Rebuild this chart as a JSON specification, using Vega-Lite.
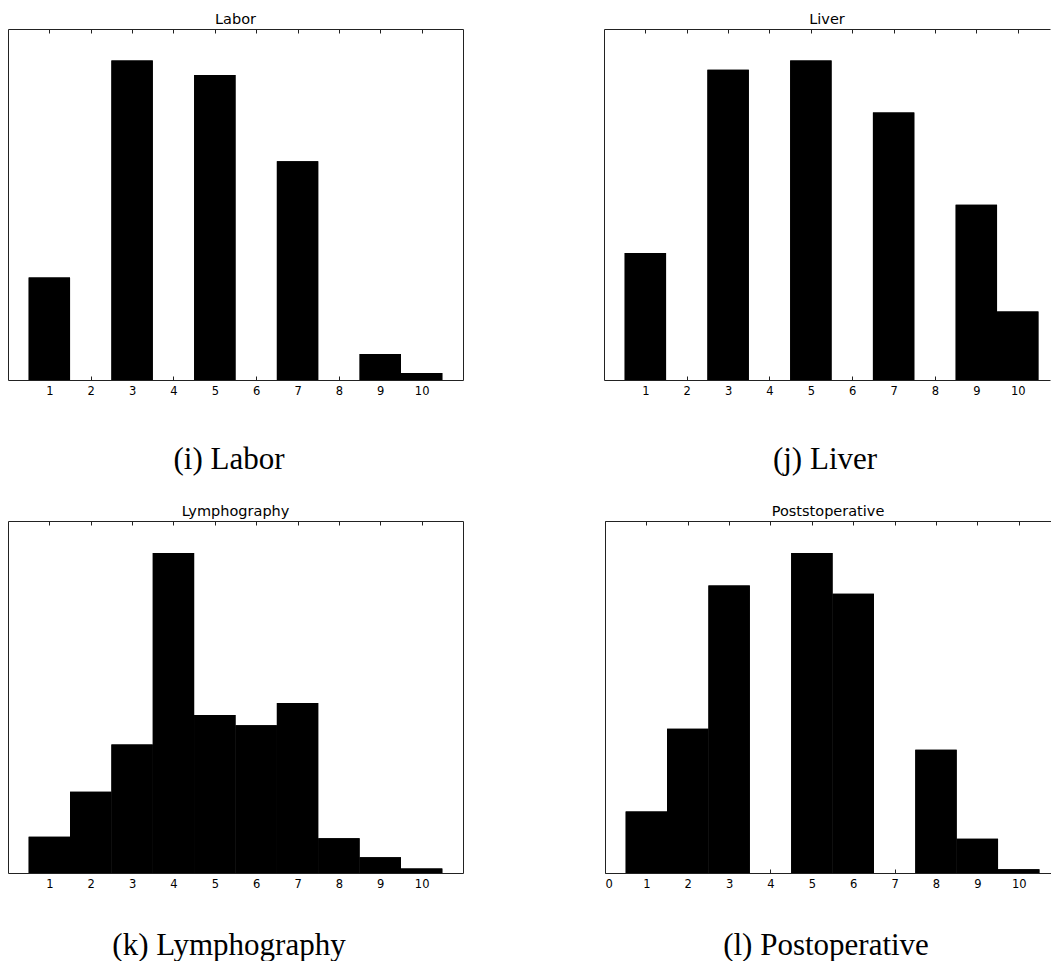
{
  "$schema": "https://vega.github.io/schema/vega-lite/v6.json",
  "padding": {"left": 8, "top": 12, "right": 0, "bottom": 0},
  "background": "white",
  "datasets": {
    "labor": [
      {"lo": 0.5, "hi": 1.5, "share": 29.2},
      {"lo": 2.5, "hi": 3.5, "share": 91.0},
      {"lo": 4.5, "hi": 5.5, "share": 86.9},
      {"lo": 6.5, "hi": 7.5, "share": 62.3},
      {"lo": 8.5, "hi": 9.5, "share": 7.4},
      {"lo": 9.5, "hi": 10.5, "share": 2.0}
    ],
    "liver": [
      {"lo": 0.5, "hi": 1.5, "share": 36.2},
      {"lo": 2.5, "hi": 3.5, "share": 88.4},
      {"lo": 4.5, "hi": 5.5, "share": 91.0},
      {"lo": 6.5, "hi": 7.5, "share": 76.2},
      {"lo": 8.5, "hi": 9.5, "share": 49.9},
      {"lo": 9.5, "hi": 10.5, "share": 19.5}
    ],
    "lymphography": [
      {"lo": 0.5, "hi": 1.5, "share": 10.3},
      {"lo": 1.5, "hi": 2.5, "share": 23.1},
      {"lo": 2.5, "hi": 3.5, "share": 36.5},
      {"lo": 3.5, "hi": 4.5, "share": 90.9},
      {"lo": 4.5, "hi": 5.5, "share": 44.9},
      {"lo": 5.5, "hi": 6.5, "share": 42.0},
      {"lo": 6.5, "hi": 7.5, "share": 48.3},
      {"lo": 7.5, "hi": 8.5, "share": 9.9},
      {"lo": 8.5, "hi": 9.5, "share": 4.5},
      {"lo": 9.5, "hi": 10.5, "share": 1.3}
    ],
    "postoperative": [
      {"lo": 0.5, "hi": 1.5, "share": 17.5},
      {"lo": 1.5, "hi": 2.5, "share": 41.0},
      {"lo": 2.5, "hi": 3.5, "share": 81.7},
      {"lo": 4.5, "hi": 5.5, "share": 90.9},
      {"lo": 5.5, "hi": 6.5, "share": 79.3},
      {"lo": 7.5, "hi": 8.5, "share": 35.0},
      {"lo": 8.5, "hi": 9.5, "share": 9.7},
      {"lo": 9.5, "hi": 10.5, "share": 1.1}
    ]
  },
  "vconcat": [
    {
      "hconcat": [
        {
          "title": "Labor",
          "width": 455, "height": 351,
          "data": {"name": "labor"},
          "layer": [
            {
              "mark": {"type": "bar", "color": "black"},
              "encoding": {
                "x": {"field": "lo", "type": "quantitative", "scale": {"domain": [0, 11], "nice": false, "zero": false},
                      "axis": {"orient": "bottom", "values": [1, 2, 3, 4, 5, 6, 7, 8, 9, 10], "title": "(i) Labor"}},
                "x2": {"field": "hi"},
                "y": {"field": "share", "type": "quantitative", "scale": {"domain": [0, 100], "nice": false},
                      "axis": {"orient": "left", "ticks": false, "labels": false, "title": null}},
                "y2": {"datum": 0}
              }
            },
            {
              "mark": {"type": "bar", "color": "black"},
              "encoding": {
                "x": {"field": "lo", "type": "quantitative",
                      "axis": {"orient": "top", "values": [1, 2, 3, 4, 5, 6, 7, 8, 9, 10], "labels": false, "title": null}},
                "x2": {"field": "hi"},
                "y": {"field": "share", "type": "quantitative",
                      "axis": {"orient": "right", "ticks": false, "labels": false, "title": null}},
                "y2": {"datum": 0}
              }
            }
          ],
          "resolve": {"axis": {"x": "independent", "y": "independent"}}
        },
        {
          "title": "Liver",
          "width": 446, "height": 351,
          "data": {"name": "liver"},
          "layer": [
            {
              "mark": {"type": "bar", "color": "black"},
              "encoding": {
                "x": {"field": "lo", "type": "quantitative", "scale": {"domain": [0, 10.78], "nice": false, "zero": false},
                      "axis": {"orient": "bottom", "values": [1, 2, 3, 4, 5, 6, 7, 8, 9, 10], "title": "(j) Liver"}},
                "x2": {"field": "hi"},
                "y": {"field": "share", "type": "quantitative", "scale": {"domain": [0, 100], "nice": false},
                      "axis": {"orient": "left", "ticks": false, "labels": false, "title": null}},
                "y2": {"datum": 0}
              }
            },
            {
              "mark": {"type": "bar", "color": "black"},
              "encoding": {
                "x": {"field": "lo", "type": "quantitative",
                      "axis": {"orient": "top", "values": [1, 2, 3, 4, 5, 6, 7, 8, 9, 10], "labels": false, "title": null}},
                "x2": {"field": "hi"},
                "y": {"field": "share", "type": "quantitative", "axis": null},
                "y2": {"datum": 0}
              }
            }
          ],
          "resolve": {"axis": {"x": "independent", "y": "independent"}}
        }
      ],
      "spacing": 141
    },
    {
      "hconcat": [
        {
          "title": "Lymphography",
          "width": 455, "height": 352,
          "data": {"name": "lymphography"},
          "layer": [
            {
              "mark": {"type": "bar", "color": "black"},
              "encoding": {
                "x": {"field": "lo", "type": "quantitative", "scale": {"domain": [0, 11], "nice": false, "zero": false},
                      "axis": {"orient": "bottom", "values": [1, 2, 3, 4, 5, 6, 7, 8, 9, 10], "title": "(k) Lymphography", "titlePadding": 41}},
                "x2": {"field": "hi"},
                "y": {"field": "share", "type": "quantitative", "scale": {"domain": [0, 100], "nice": false},
                      "axis": {"orient": "left", "ticks": false, "labels": false, "title": null}},
                "y2": {"datum": 0}
              }
            },
            {
              "mark": {"type": "bar", "color": "black"},
              "encoding": {
                "x": {"field": "lo", "type": "quantitative",
                      "axis": {"orient": "top", "values": [1, 2, 3, 4, 5, 6, 7, 8, 9, 10], "labels": false, "title": null}},
                "x2": {"field": "hi"},
                "y": {"field": "share", "type": "quantitative",
                      "axis": {"orient": "right", "ticks": false, "labels": false, "title": null}},
                "y2": {"datum": 0}
              }
            }
          ],
          "resolve": {"axis": {"x": "independent", "y": "independent"}}
        },
        {
          "title": "Poststoperative",
          "width": 446, "height": 352,
          "data": {"name": "postoperative"},
          "layer": [
            {
              "mark": {"type": "bar", "color": "black"},
              "encoding": {
                "x": {"field": "lo", "type": "quantitative", "scale": {"domain": [0, 10.78], "nice": false, "zero": false},
                      "axis": {"orient": "bottom", "values": [0, 1, 2, 3, 4, 5, 6, 7, 8, 9, 10], "title": "(l) Postoperative", "titlePadding": 41}},
                "x2": {"field": "hi"},
                "y": {"field": "share", "type": "quantitative", "scale": {"domain": [0, 100], "nice": false},
                      "axis": {"orient": "left", "ticks": false, "labels": false, "title": null}},
                "y2": {"datum": 0}
              }
            },
            {
              "mark": {"type": "bar", "color": "black"},
              "encoding": {
                "x": {"field": "lo", "type": "quantitative",
                      "axis": {"orient": "top", "values": [0, 1, 2, 3, 4, 5, 6, 7, 8, 9, 10], "labels": false, "title": null}},
                "x2": {"field": "hi"},
                "y": {"field": "share", "type": "quantitative", "axis": null},
                "y2": {"datum": 0}
              }
            }
          ],
          "resolve": {"axis": {"x": "independent", "y": "independent"}}
        }
      ],
      "spacing": 141
    }
  ],
  "spacing": 29,
  "config": {
    "view": {"stroke": null},
    "axis": {
      "grid": false,
      "domainColor": "#222",
      "domainWidth": 1,
      "tickColor": "#222",
      "tickWidth": 1,
      "tickSize": -4,
      "labelFont": "DejaVu Sans",
      "labelFontSize": 11.5,
      "labelColor": "black",
      "labelPadding": 9,
      "titleFont": "Liberation Serif",
      "titleFontSize": 31,
      "titleFontWeight": "normal",
      "titleColor": "black",
      "titlePadding": 48,
      "titleX": 220.5
    },
    "title": {
      "font": "DejaVu Sans",
      "fontSize": 14.5,
      "fontWeight": "normal",
      "color": "black",
      "offset": 1
    }
  }
}
